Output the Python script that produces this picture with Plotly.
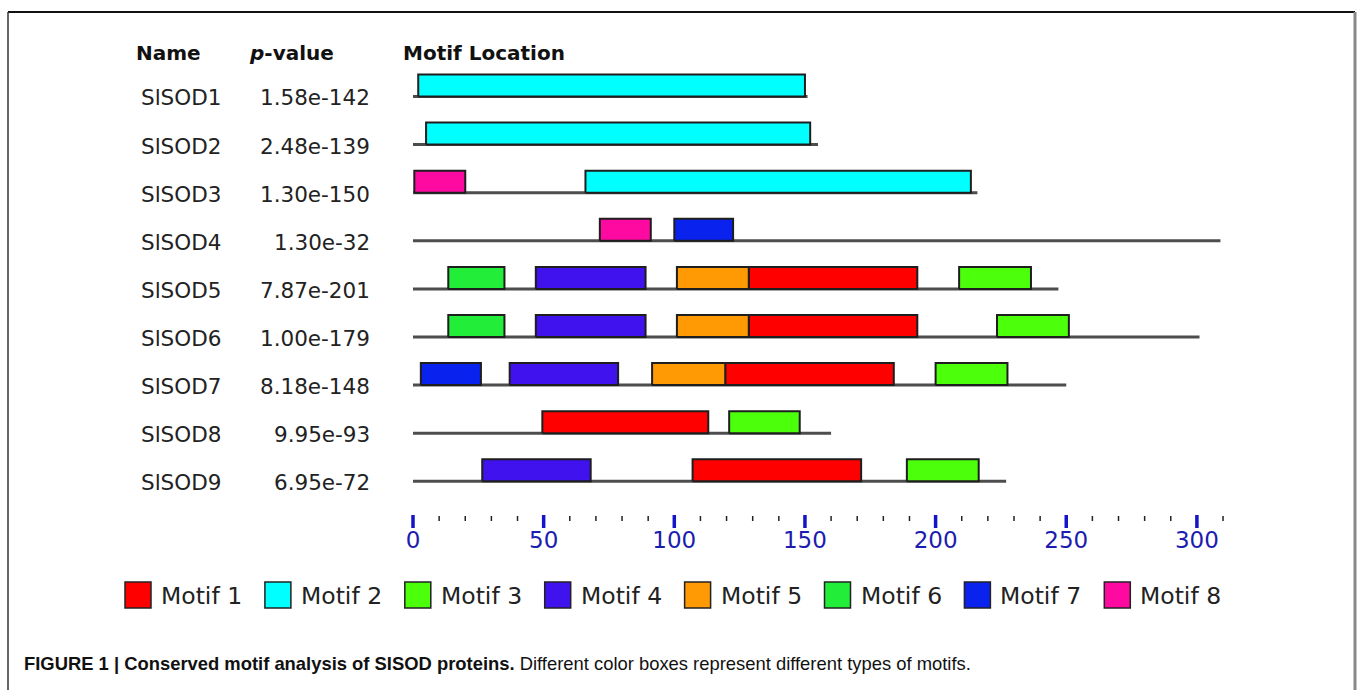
import plotly.graph_objects as go

# ---- data -------------------------------------------------------------
proteins = ["SlSOD1", "SlSOD2", "SlSOD3", "SlSOD4", "SlSOD5",
            "SlSOD6", "SlSOD7", "SlSOD8", "SlSOD9"]
p_values = ["1.58e-142", "2.48e-139", "1.30e-150", "1.30e-32", "7.87e-201",
            "1.00e-179", "8.18e-148", "9.95e-93", "6.95e-72"]
seq_lengths = [151, 155, 216, 309, 247, 301, 250, 160, 227]

# motif hits per protein: motif number, start and end residue
motif_ids = [[2], [2], [8, 2], [8, 7], [6, 4, 5, 1, 3], [6, 4, 5, 1, 3],
             [7, 4, 5, 1, 3], [1, 3], [4, 1, 3]]
motif_starts = [[2], [5], [0.5, 66], [71.5, 100], [13.5, 47, 101, 128.5, 209],
                [13.5, 47, 101, 128.5, 223.5], [3, 37, 91.5, 119.5, 200],
                [49.5, 121], [26.5, 107, 189]]
motif_ends = [[150], [152], [20, 213.5], [91, 122.5], [35, 89, 128.5, 193, 236.5],
              [35, 89, 128.5, 193, 251], [26, 78.5, 119.5, 184, 227.5],
              [113, 148], [68, 171.5, 216.5]]

motif_names = ["Motif 1", "Motif 2", "Motif 3", "Motif 4",
               "Motif 5", "Motif 6", "Motif 7", "Motif 8"]
motif_colors = ["#ff0000", "#00ffff", "#4cff0a", "#3f12ee",
                "#ff9a05", "#22ee3a", "#0a22ee", "#ff0aa0"]

scale_major = [0, 50, 100, 150, 200, 250, 300]
scale_minor = [10, 20, 30, 40, 60, 70, 80, 90, 110, 120, 130, 140, 160, 170,
               180, 190, 210, 220, 230, 240, 260, 270, 280, 290, 310]

# ---- geometry ---------------------------------------------------------
W, H = 1357, 690
X0_PX = 413.0          # pixel of residue 0
PX_PER_RES = 2.613
ROW0_PX = 96.5         # baseline of first row
ROW_PX = 48.1
BOX_H = 22.0 / ROW_PX


def xr(px):
    return (px - X0_PX) / PX_PER_RES


def yr(px):
    return (px - ROW0_PX) / ROW_PX


TEXT_FONT = "DejaVu Sans, Verdana, sans-serif"

fig = go.Figure()

# sequence baselines
bx, by = [], []
for i, L in enumerate(seq_lengths):
    bx += [0, L, None]
    by += [i, i, None]
fig.add_trace(go.Scatter(x=bx, y=by, mode="lines",
                         line=dict(color="#4d4d4d", width=3), hoverinfo="skip"))

# motif boxes, one trace per motif
for m, (name, color) in enumerate(zip(motif_names, motif_colors), start=1):
    px_, py_ = [], []
    for i in range(len(proteins)):
        for mid, s, e in zip(motif_ids[i], motif_starts[i], motif_ends[i]):
            if mid != m:
                continue
            px_ += [s, e, e, s, s, None]
            py_ += [i, i, i - BOX_H, i - BOX_H, i, None]
    if px_:
        fig.add_trace(go.Scatter(x=px_, y=py_, mode="lines", fill="toself",
                                 fillcolor=color, name=name,
                                 line=dict(color="#1e1e1e", width=2)))

# residue scale
mx, my = [], []
for v in scale_major:
    mx += [v, v, None]
    my += [yr(515), yr(528), None]
fig.add_trace(go.Scatter(x=mx, y=my, mode="lines",
                         line=dict(color="#1414c8", width=3.5), hoverinfo="skip"))
nx, ny = [], []
for v in scale_minor:
    nx += [v, v, None]
    ny += [yr(516), yr(521), None]
fig.add_trace(go.Scatter(x=nx, y=ny, mode="lines",
                         line=dict(color="#222222", width=1.5), hoverinfo="skip"))
fig.add_trace(go.Scatter(x=scale_major, y=[yr(542)] * len(scale_major),
                         mode="text", text=[str(v) for v in scale_major],
                         textfont=dict(family=TEXT_FONT, size=23, color="#1c1cb0"),
                         hoverinfo="skip"))

annotations = []
shapes = []

# column headers
for txt, xpx in [("<b>Name</b>", 134), ("<b><i>p</i>-value</b>", 247),
                 ("<b>Motif Location</b>", 401)]:
    annotations.append(dict(x=xr(xpx), y=yr(53), xref="x", yref="y", text=txt,
                            showarrow=False, xanchor="left", yanchor="middle",
                            font=dict(family=TEXT_FONT, size=20, color="#111111")))

# row labels
for i, (name, pv) in enumerate(zip(proteins, p_values)):
    annotations.append(dict(x=xr(139), y=i + 0.03, xref="x", yref="y", text=name,
                            showarrow=False, xanchor="left", yanchor="middle",
                            font=dict(family=TEXT_FONT, size=21.5, color="#222222")))
    annotations.append(dict(x=xr(372), y=i + 0.03, xref="x", yref="y", text=pv,
                            showarrow=False, xanchor="right", yanchor="middle",
                            font=dict(family=TEXT_FONT, size=21.5, color="#222222")))

# legend
for k, (name, color) in enumerate(zip(motif_names, motif_colors)):
    left = 125 + 139.9 * k
    shapes.append(dict(type="rect", xref="paper", yref="paper",
                       x0=left / W, x1=(left + 26) / W,
                       y0=1 - 608 / H, y1=1 - 582 / H,
                       fillcolor=color, line=dict(color="#222222", width=1.5)))
    annotations.append(dict(x=(left + 34) / W, y=1 - 596 / H, xref="paper",
                            yref="paper", text=name, showarrow=False,
                            xanchor="left", yanchor="middle",
                            font=dict(family=TEXT_FONT, size=23.5, color="#222222")))

# frame
shapes += [
    dict(type="line", xref="paper", yref="paper", x0=8 / W, x1=1355 / W,
         y0=1 - 12 / H, y1=1 - 12 / H, line=dict(color="#111111", width=2)),
    dict(type="line", xref="paper", yref="paper", x0=8 / W, x1=8 / W,
         y0=1 - 12 / H, y1=-0.05, line=dict(color="#333333", width=1.5)),
    dict(type="line", xref="paper", yref="paper", x0=1355 / W, x1=1355 / W,
         y0=1 - 12 / H, y1=-0.05, line=dict(color="#888888", width=3)),
]

# caption
annotations.append(dict(
    x=22 / W, y=1 - 663 / H, xref="paper", yref="paper", showarrow=False,
    xanchor="left", yanchor="middle",
    text="<b>FIGURE 1 | Conserved motif analysis of SISOD proteins.</b> "
         "Different color boxes represent different types of motifs.",
    font=dict(family="Liberation Sans Narrow, Arial Narrow, Liberation Sans, sans-serif",
              size=18.4, color="#111111")))

fig.update_layout(
    width=W, height=H, margin=dict(l=0, r=0, t=0, b=0),
    paper_bgcolor="white", plot_bgcolor="white", showlegend=False,
    xaxis=dict(range=[xr(0), xr(W)], visible=False, fixedrange=True),
    yaxis=dict(range=[yr(H), yr(0)], visible=False, fixedrange=True),
    annotations=annotations, shapes=shapes,
)

fig.write_html("out.html")
